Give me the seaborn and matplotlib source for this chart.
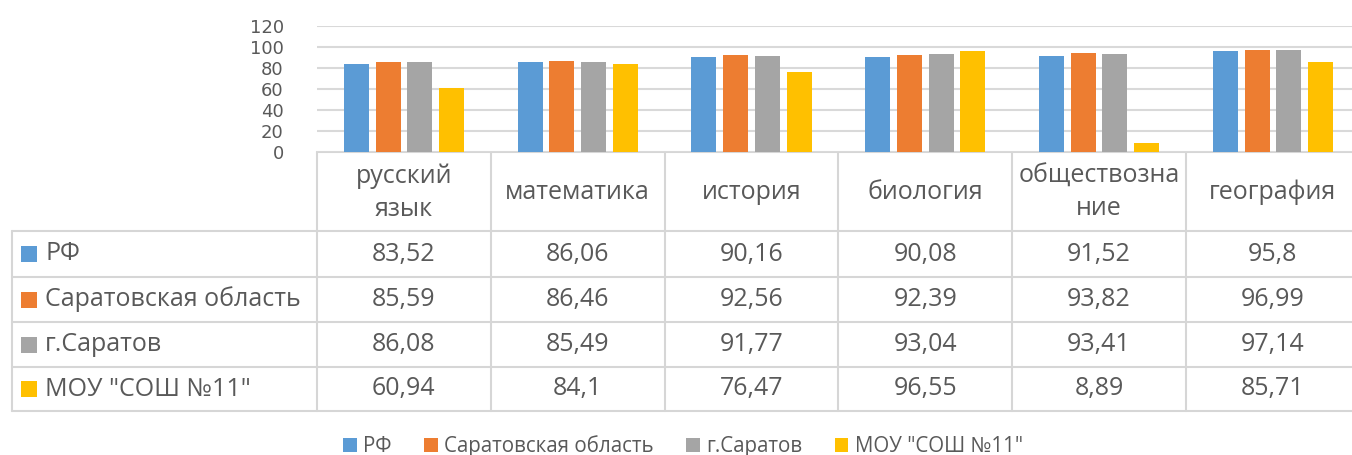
import pandas as pd
import numpy as np
import matplotlib
matplotlib.use('Agg')
import matplotlib.pyplot as plt
from matplotlib.patches import Patch, Rectangle
import seaborn as sns

# chart data
subjects = ['русский\nязык', 'математика', 'история', 'биология', 'обществозна\nние', 'география']
regions = ['РФ', 'Саратовская область', 'г.Саратов', 'МОУ "СОШ №11"']
rf = [83.52, 86.06, 90.16, 90.08, 91.52, 95.8]
sar_obl = [85.59, 86.46, 92.56, 92.39, 93.82, 96.99]
sar_city = [86.08, 85.49, 91.77, 93.04, 93.41, 97.14]
school = [60.94, 84.1, 76.47, 96.55, 8.89, 85.71]
y_ticks = [0, 20, 40, 60, 80, 100, 120]
colors = ['#5B9BD5', '#ED7D31', '#A5A5A5', '#FFC000']

series = [rf, sar_obl, sar_city, school]
df = pd.DataFrame({
    'subject': np.repeat([subjects], len(regions), axis=0).ravel(),
    'region': np.repeat(regions, len(subjects)),
    'value': np.concatenate(series),
})

sns.set_style('white')
plt.rcParams['font.family'] = ['DejaVu Sans']
txt_col = '#595959'
grid_col = '#D9D9D9'

W, H = 1352, 455
fig = plt.figure(figsize=(W / 100, H / 100), dpi=100)

# plot area in pixels
x0, colw = 317, 173.8
top_px, base_px = 26, 152
x1 = x0 + colw * len(subjects)
ax = fig.add_axes([x0 / W, 1 - base_px / H, (x1 - x0) / W, (base_px - top_px) / H])

sns.barplot(data=df, x='subject', y='value', hue='region', order=subjects,
            hue_order=regions, palette=colors, saturation=1, width=0.73, gap=0.21,
            linewidth=0, legend=False, ax=ax, zorder=3)

ax.set_xlim(-0.5, len(subjects) - 0.5)
ax.set_ylim(0, 120)
ax.set_yticks(y_ticks)
ax.set_yticklabels([str(t) for t in y_ticks], fontsize=13, color=txt_col)
ax.tick_params(axis='y', length=0, pad=24)
ax.set_xticks([])
ax.set_xlabel('')
ax.set_ylabel('')
ax.yaxis.grid(True, color=grid_col, linewidth=1.5, zorder=0)
ax.set_axisbelow(True)
for side in ['top', 'right', 'left', 'bottom']:
    ax.spines[side].set_visible(False)

# data table drawn under the plot, in pixel coordinates
tb = fig.add_axes([0, 0, 1, 1], zorder=-1)
tb.set_xlim(0, W)
tb.set_ylim(H, 0)
tb.axis('off')

row_edges = [152, 231, 277, 322, 367, 411]
left_px = 12
tfont = 'Open Sans'
fs = 18
lc = '#D6D6D6'

# horizontal lines
tb.plot([x0, x1], [row_edges[0]] * 2, color=lc, lw=1.5)
for y in row_edges[1:]:
    tb.plot([left_px, x1], [y, y], color=lc, lw=1.5)
# vertical lines
tb.plot([left_px, left_px], [row_edges[1], row_edges[-1]], color=lc, lw=1.5)
for i in range(len(subjects) + 1):
    xx = x0 + i * colw
    tb.plot([xx, xx], [row_edges[0], row_edges[-1]], color=lc, lw=1.5)

# header
for i, s in enumerate(subjects):
    tb.text(x0 + (i + 0.5) * colw, (row_edges[0] + row_edges[1]) / 2 + 1, s,
            ha='center', va='center', fontsize=fs, family=tfont,
            color=txt_col, linespacing=1.4)

# rows
for r, (name, vals) in enumerate(zip(regions, series)):
    yc = (row_edges[r + 1] + row_edges[r + 2]) / 2
    tb.add_patch(Rectangle((21, yc - 8), 16, 16, color=colors[r], lw=0))
    tb.text(45, yc, name, ha='left', va='center', fontsize=fs,
            family=tfont, color=txt_col)
    for i, v in enumerate(vals):
        tb.text(x0 + (i + 0.5) * colw, yc, str(v).replace('.', ','),
                ha='center', va='center', fontsize=fs, family=tfont,
                color=txt_col)

# legend
handles = [Patch(facecolor=c, edgecolor='none', label=n) for c, n in zip(colors, regions)]
leg = fig.legend(handles=handles, loc='center', bbox_to_anchor=(683 / W, 1 - 446 / H),
                 ncol=4, frameon=False, handlelength=0.65, handleheight=0.65,
                 handletextpad=0.3, columnspacing=1.6,
                 prop={'family': tfont, 'size': 14.8})
for t in leg.get_texts():
    t.set_color(txt_col)

fig.savefig('out.png', dpi=100)
